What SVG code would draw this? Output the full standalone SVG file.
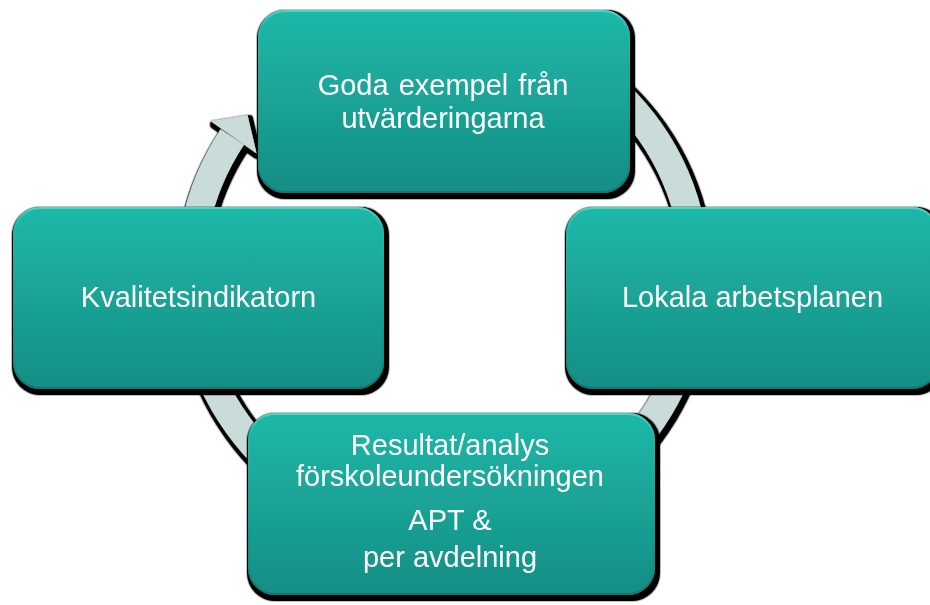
<svg xmlns="http://www.w3.org/2000/svg" width="930" height="605" viewBox="0 0 930 605">
  <style>
    .box { fill: url(#boxGrad); }
    .rim { fill: none; stroke: url(#rimGrad); stroke-width: 2; }
    .lbl { font-family: "Liberation Sans", Arial, sans-serif; font-size: 29px; fill: #ffffff; text-anchor: middle; }
    .ring { fill: none; stroke: #c9dcda; stroke-width: 28; }
    .head { fill: #c9dcda; }
  </style>
  <defs>
    <linearGradient id="boxGrad" x1="0" y1="0" x2="0" y2="1">
      <stop offset="0" stop-color="#1fb8a8"/>
      <stop offset="1" stop-color="#158e85"/>
    </linearGradient>
    <linearGradient id="rimGrad" x1="0" y1="0" x2="0" y2="1">
      <stop offset="0" stop-color="#5fd8cc" stop-opacity="0.8"/>
      <stop offset="0.12" stop-color="#3cc8ba" stop-opacity="0.15"/>
      <stop offset="0.85" stop-color="#0d6f68" stop-opacity="0.2"/>
      <stop offset="1" stop-color="#0d6f68" stop-opacity="0.7"/>
    </linearGradient>
    <filter id="sh" x="-10%" y="-10%" width="125%" height="130%">
      <feMorphology in="SourceAlpha" operator="dilate" radius="1.5" result="d"/>
      <feGaussianBlur in="d" stdDeviation="0.9" result="b"/>
      <feOffset in="b" dx="2" dy="3" result="o"/>
      <feComponentTransfer in="o" result="s"><feFuncA type="linear" slope="3"/></feComponentTransfer>
      <feMerge><feMergeNode in="s"/><feMergeNode in="SourceGraphic"/></feMerge>
    </filter>
  </defs>

  <g id="connectors" filter="url(#sh)">
    <path class="ring" d="M 569.5 57.9 A 253 253 0 1 1 232.3 137.0"/>
    <polygon class="head" points="210.5,121 247.5,115 256.6,153.5"/>
  </g>

  <g id="node-top" filter="url(#sh)">
    <rect class="box" x="258" y="10" width="372" height="183" rx="27"/>
    <rect class="rim" x="259" y="11" width="370" height="181" rx="26"/>
    <text class="lbl" x="443" y="95" word-spacing="2">Goda exempel från</text>
    <text class="lbl" x="443" y="128">utvärderingarna</text>
  </g>

  <g id="node-left" filter="url(#sh)">
    <rect class="box" x="13" y="207" width="371" height="182" rx="27"/>
    <rect class="rim" x="14" y="208" width="369" height="180" rx="26"/>
    <text class="lbl" x="198.5" y="307">Kvalitetsindikatorn</text>
  </g>

  <g id="node-right" filter="url(#sh)">
    <rect class="box" x="566" y="207" width="373" height="182" rx="27"/>
    <rect class="rim" x="567" y="208" width="371" height="180" rx="26"/>
    <text class="lbl" x="752.5" y="307">Lokala arbetsplanen</text>
  </g>

  <g id="node-bottom" filter="url(#sh)">
    <rect class="box" x="248" y="413" width="407" height="182" rx="27"/>
    <rect class="rim" x="249" y="414" width="405" height="180" rx="26"/>
    <text class="lbl" x="450" y="455">Resultat/analys</text>
    <text class="lbl" x="450" y="486">förskoleundersökningen</text>
    <text class="lbl" x="450" y="530">APT &amp;</text>
    <text class="lbl" x="450" y="567">per avdelning</text>
  </g>
</svg>
